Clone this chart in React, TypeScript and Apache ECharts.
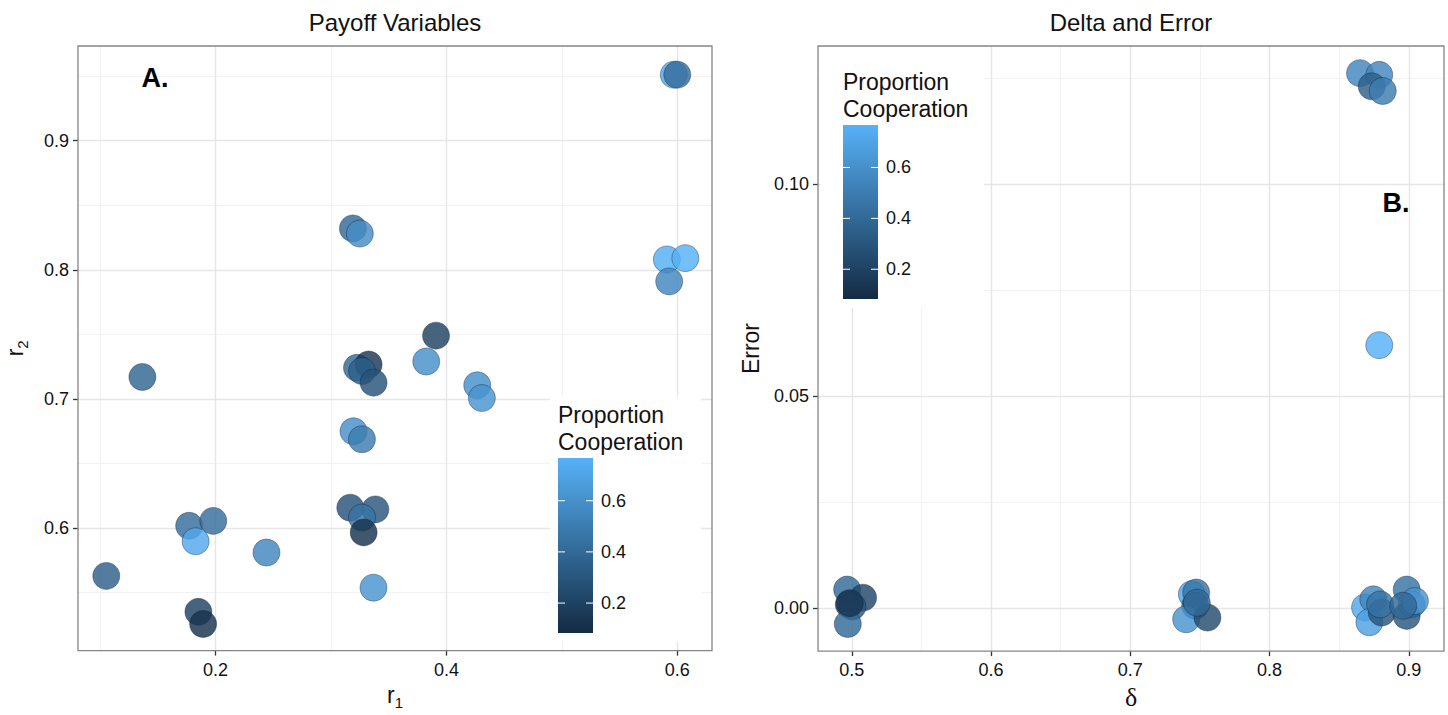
import React, { useEffect, useRef } from 'react';
import * as echarts from 'echarts';

// ---------- Data ----------
// Panel A: payoff variables
const r1 = [0.597, 0.600, 0.319, 0.325, 0.591, 0.607, 0.593, 0.391, 0.3825, 0.1366, 0.3225, 0.3326, 0.3269, 0.3369, 0.4267, 0.4307, 0.3195, 0.3268, 0.3167, 0.3384, 0.3269, 0.3283, 0.1771, 0.198, 0.1827, 0.2441, 0.1053, 0.3368, 0.1851, 0.1892];
const r2 = [0.951, 0.951, 0.832, 0.828, 0.808, 0.809, 0.791, 0.749, 0.729, 0.717, 0.7241, 0.7267, 0.7216, 0.7126, 0.7106, 0.7007, 0.675, 0.6688, 0.6158, 0.6145, 0.6082, 0.5967, 0.6018, 0.6056, 0.5898, 0.5811, 0.563, 0.5539, 0.5352, 0.5258];
const coopA = [0.72, 0.42, 0.40, 0.58, 0.75, 0.77, 0.55, 0.20, 0.60, 0.38, 0.40, 0.15, 0.35, 0.28, 0.60, 0.62, 0.60, 0.50, 0.28, 0.30, 0.45, 0.12, 0.42, 0.42, 0.72, 0.55, 0.35, 0.62, 0.20, 0.12];

// Panel B: delta and error
const delta = [0.865, 0.8788, 0.8734, 0.8813, 0.8788, 0.4966, 0.5081, 0.4978, 0.5004, 0.4971, 0.4985, 0.7442, 0.7473, 0.7466, 0.7401, 0.7554, 0.7478, 0.8686, 0.8745, 0.8717, 0.8806, 0.8794, 0.8985, 0.9021, 0.8985, 0.9044, 0.896];
const errorVals = [0.1261, 0.1257, 0.1230, 0.1219, 0.062, 0.0044, 0.0025, 0.0009, 0.0004, -0.0037, 0.0012, 0.0033, 0.0037, 0.0006, -0.0026, -0.0022, 0.0013, 0.0002, 0.0021, -0.0033, -0.001, 0.0009, 0.0044, 0.0009, -0.0018, 0.0017, 0.0006];
const coopB = [0.55, 0.55, 0.35, 0.50, 0.77, 0.40, 0.22, 0.20, 0.30, 0.40, 0.15, 0.70, 0.45, 0.35, 0.62, 0.25, 0.40, 0.72, 0.55, 0.68, 0.30, 0.45, 0.45, 0.60, 0.30, 0.62, 0.40];

// Axes
const xRangeA = [0.0808, 0.6301];
const yRangeA = [0.5052, 0.9732];
const xTicksA = [0.2, 0.4, 0.6];
const xMinorA = [0.1, 0.3, 0.5];
const yTicksA = [0.6, 0.7, 0.8, 0.9];
const yMinorA = [0.55, 0.65, 0.75, 0.85, 0.95];

const xRangeB = [0.4757, 0.9253];
const yRangeB = [-0.0101, 0.1325];
const xTicksB = [0.5, 0.6, 0.7, 0.8, 0.9];
const xMinorB = [0.55, 0.65, 0.75, 0.85];
const yTicksB = [0, 0.05, 0.1];
const yMinorB = [0.025, 0.075, 0.125];

// Colour scale
const coopRange = [0.083, 0.767];
const legendTicks = [0.2, 0.4, 0.6];
const lowColor = '#132B43';
const highColor = '#56B1F7';

const FONT = '"Liberation Sans", Arial, Helvetica, sans-serif';

const gridA = { left: 78, top: 46, width: 634, height: 612 };
const gridB = { left: 818, top: 46, width: 626, height: 612 };

const MAJOR = '#e6e6e6';
const MINOR = '#f2f2f2';

function makeAxis(gridIndex: number, range: number[], ticks: number[], digits: number, name: string, nameGap: number, nameStyle: any, isY: boolean) {
  return {
    type: 'value',
    gridIndex,
    min: range[0],
    max: range[1],
    position: isY ? 'left' : 'bottom',
    axisLine: { show: false, onZero: false },
    axisTick: { show: true, length: 5, lineStyle: { color: '#333', width: 1.3 }, customValues: ticks },
    axisLabel: {
      customValues: ticks,
      formatter: (v: number) => v.toFixed(digits),
      margin: isY ? 9 : 10,
      fontSize: 18,
      color: '#111',
      fontFamily: FONT,
    },
    splitLine: { show: true, lineStyle: { color: MAJOR, width: 1.4 } },
    name,
    nameLocation: 'middle',
    nameGap,
    nameTextStyle: nameStyle,
    z: 1,
  };
}

function minorAxis(gridIndex: number, range: number[], ticks: number[], isY: boolean) {
  return {
    type: 'value',
    gridIndex,
    min: range[0],
    max: range[1],
    position: isY ? 'right' : 'top',
    axisLine: { show: false, onZero: false },
    axisTick: { show: false, customValues: ticks },
    axisLabel: { show: false, customValues: ticks },
    splitLine: { show: true, lineStyle: { color: MINOR, width: 1 } },
    z: 0,
  };
}

function legendGraphics(boxX: number, boxY: number, boxW: number, boxH: number, textX: number, title1Y: number, title2Y: number, barTop: number, barBottom: number, barW: number, labelX: number) {
  const els: any[] = [];
  els.push({ type: 'rect', shape: { x: boxX, y: boxY, width: boxW, height: boxH }, style: { fill: '#fff' }, z: 20 });
  els.push({ type: 'text', x: textX, y: title1Y, style: { text: 'Proportion', font: `23px ${FONT}`, fill: '#111', textVerticalAlign: 'middle' }, z: 21 });
  els.push({ type: 'text', x: textX, y: title2Y, style: { text: 'Cooperation', font: `23px ${FONT}`, fill: '#111', textVerticalAlign: 'middle' }, z: 21 });
  els.push({
    type: 'rect',
    shape: { x: textX, y: barTop, width: barW, height: barBottom - barTop },
    style: {
      fill: {
        type: 'linear', x: 0, y: 0, x2: 0, y2: 1,
        colorStops: [{ offset: 0, color: highColor }, { offset: 1, color: lowColor }],
      },
    },
    z: 21,
  });
  legendTicks.forEach((v) => {
    const y = barBottom - ((v - coopRange[0]) / (coopRange[1] - coopRange[0])) * (barBottom - barTop);
    const tl = barW / 5;
    els.push({ type: 'line', shape: { x1: textX, y1: y, x2: textX + tl, y2: y }, style: { stroke: '#fff', lineWidth: 1 }, z: 22 });
    els.push({ type: 'line', shape: { x1: textX + barW - tl, y1: y, x2: textX + barW, y2: y }, style: { stroke: '#fff', lineWidth: 1 }, z: 22 });
    els.push({ type: 'text', x: labelX, y, style: { text: v.toFixed(1), font: `18px ${FONT}`, fill: '#111', textVerticalAlign: 'middle' }, z: 22 });
  });
  return els;
}

export default function App() {
  const ref = useRef<HTMLDivElement>(null);

  useEffect(() => {
    if (!ref.current) return;
    const chart = echarts.init(ref.current, undefined, { renderer: 'svg' });

    const dataA = r1.map((x, i) => [x, r2[i], coopA[i]]);
    const dataB = delta.map((x, i) => [x, errorVals[i], coopB[i]]);

    const nameRich = {
      r: { fontSize: 23, fontFamily: FONT, color: '#111', lineHeight: 30, verticalAlign: 'middle' },
      s: { fontSize: 15, fontFamily: FONT, color: '#111', lineHeight: 16, verticalAlign: 'bottom' },
    };

    const pointStyle = { opacity: 0.82, borderColor: 'rgba(10,25,45,0.45)', borderWidth: 1 };

    chart.setOption({
      animation: false,
      backgroundColor: '#fff',
      grid: [
        { ...gridA, show: true, borderColor: '#858585', borderWidth: 1.3, backgroundColor: 'transparent', z: 10 },
        { ...gridB, show: true, borderColor: '#858585', borderWidth: 1.3, backgroundColor: 'transparent', z: 10 },
      ],
      xAxis: [
        makeAxis(0, xRangeA, xTicksA, 1, '{r|r}{s|1}', 28, { rich: nameRich }, false),
        makeAxis(1, xRangeB, xTicksB, 1, 'δ', 26, { fontSize: 26, fontFamily: '"Liberation Serif", "DejaVu Serif", serif', color: '#111' }, false),
        minorAxis(0, xRangeA, xMinorA, false),
        minorAxis(1, xRangeB, xMinorB, false),
      ],
      yAxis: [
        makeAxis(0, yRangeA, yTicksA, 1, '{r|r}{s|2}', 48, { rich: nameRich }, true),
        makeAxis(1, yRangeB, yTicksB, 2, 'Error', 56, { fontSize: 23, fontFamily: FONT, color: '#111' }, true),
        minorAxis(0, yRangeA, yMinorA, true),
        minorAxis(1, yRangeB, yMinorB, true),
      ],
      visualMap: {
        type: 'continuous',
        show: false,
        seriesIndex: [0, 1],
        dimension: 2,
        min: coopRange[0],
        max: coopRange[1],
        inRange: { color: [lowColor, highColor] },
      },
      series: [
        {
          type: 'scatter',
          xAxisIndex: 0,
          yAxisIndex: 0,
          data: dataA,
          symbolSize: 27,
          itemStyle: pointStyle,
          z: 3,
          silent: true,
        },
        {
          type: 'scatter',
          xAxisIndex: 1,
          yAxisIndex: 1,
          data: dataB,
          symbolSize: 27,
          itemStyle: pointStyle,
          z: 3,
          silent: true,
        },
      ],
      graphic: [
        { type: 'text', x: gridA.left + gridA.width / 2, y: 22, style: { text: 'Payoff Variables', font: `24px ${FONT}`, fill: '#111', textAlign: 'center', textVerticalAlign: 'middle' }, z: 30 },
        { type: 'text', x: gridB.left + gridB.width / 2, y: 22, style: { text: 'Delta and Error', font: `24px ${FONT}`, fill: '#111', textAlign: 'center', textVerticalAlign: 'middle' }, z: 30 },
        { type: 'text', x: 155, y: 78, style: { text: 'A.', font: `bold 27px ${FONT}`, fill: '#000', textAlign: 'center', textVerticalAlign: 'middle' }, z: 30 },
        { type: 'text', x: 1396, y: 203, style: { text: 'B.', font: `bold 27px ${FONT}`, fill: '#000', textAlign: 'center', textVerticalAlign: 'middle' }, z: 30 },
        ...legendGraphics(550, 397, 151, 245, 558, 415, 442, 458, 633, 35, 601),
        ...legendGraphics(820, 47, 164, 261, 843, 82, 109, 125, 299, 35, 886),
      ],
    });

    return () => chart.dispose();
  }, []);

  return <div ref={ref} style={{ position: 'fixed', left: 0, top: 0, width: 1448, height: 715 }} />;
}
